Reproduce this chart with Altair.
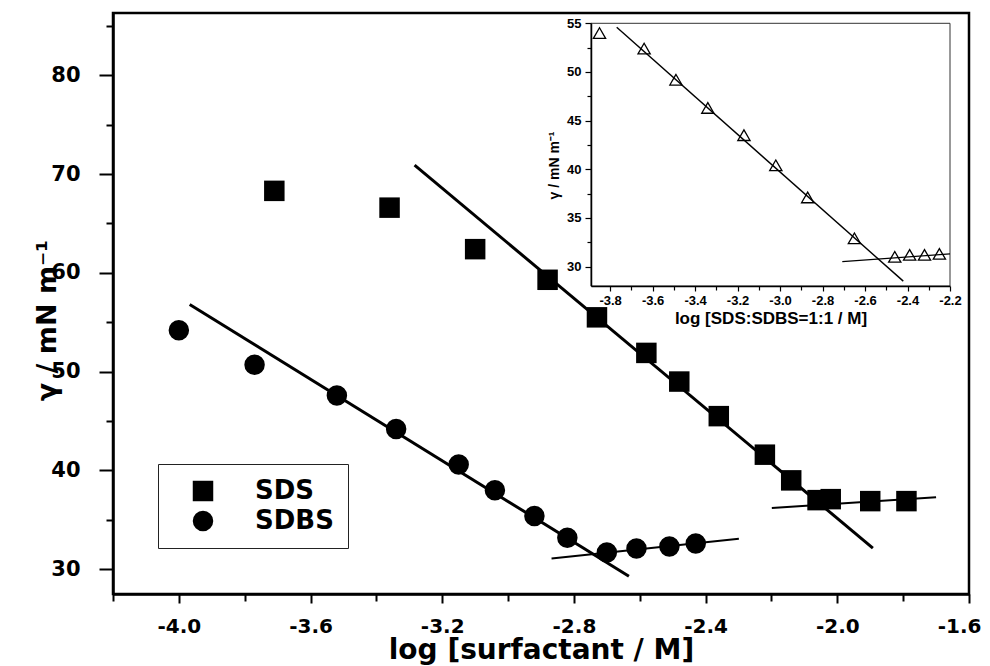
import altair as alt
import pandas as pd

# ---------------- data ----------------
sds_x = [-3.71, -3.36, -3.10, -2.88, -2.73, -2.58, -2.48, -2.36, -2.22, -2.14, -2.06, -2.02, -1.90, -1.79]
sds_y = [68.3, 66.6, 62.4, 59.3, 55.5, 51.9, 49.0, 45.5, 41.6, 39.0, 37.0, 37.1, 36.9, 36.9]
sdbs_x = [-4.00, -3.77, -3.52, -3.34, -3.15, -3.04, -2.92, -2.82, -2.70, -2.61, -2.51, -2.43]
sdbs_y = [54.2, 50.7, 47.6, 44.2, 40.6, 38.0, 35.4, 33.2, 31.7, 32.1, 32.3, 32.6]

# fitted straight lines: (x start, x end), (y start, y end)
sds_fit_x, sds_fit_y = [-3.284, -1.892], [70.9, 32.15]
sds_plateau_x, sds_plateau_y = [-2.199, -1.700], [36.2, 37.3]
sdbs_fit_x, sdbs_fit_y = [-3.967, -2.633], [56.8, 29.3]
sdbs_plateau_x, sdbs_plateau_y = [-2.868, -2.299], [31.1, 33.1]

# inset: SDS:SDBS = 1:1
mix_x = [-3.85, -3.64, -3.49, -3.34, -3.17, -3.02, -2.87, -2.65, -2.46, -2.39, -2.32, -2.25]
mix_y = [54.0, 52.4, 49.2, 46.3, 43.5, 40.4, 37.1, 32.9, 31.0, 31.2, 31.2, 31.3]
mix_fit_x, mix_fit_y = [-3.769, -2.420], [54.6, 28.5]
mix_plateau_x, mix_plateau_y = [-2.707, -2.2], [30.5, 31.3]

series_names = ["SDS", "SDBS"]

# axis domains and ticks
main_x_domain = [-4.2, -1.6]
main_y_domain = [27.5, 86.3]
main_x_ticks = [-4.2, -4.0, -3.8, -3.6, -3.4, -3.2, -3.0, -2.8, -2.6, -2.4, -2.2, -2.0, -1.8, -1.6]
main_y_ticks = [30, 35, 40, 45, 50, 55, 60, 65, 70, 75, 80, 85]
inset_x_domain = [-3.89, -2.2]
inset_y_domain = [28, 55]
inset_x_ticks = [-3.8, -3.7, -3.6, -3.5, -3.4, -3.3, -3.2, -3.1, -3.0, -2.9, -2.8, -2.7,
                 -2.6, -2.5, -2.4, -2.3, -2.2]
inset_y_ticks = [30, 32.5, 35, 37.5, 40, 42.5, 45, 47.5, 50, 52.5, 55]

# ---------------- tables ----------------
pts = pd.DataFrame({
    "x": sds_x + sdbs_x,
    "y": sds_y + sdbs_y,
    "series": [series_names[0]] * len(sds_x) + [series_names[1]] * len(sdbs_x),
})


def seg_table(segs):
    rows = []
    for name, xs, ys in segs:
        for xv, yv in zip(xs, ys):
            rows.append({"seg": name, "x": xv, "y": yv})
    return pd.DataFrame(rows)


steep = seg_table([("sds", sds_fit_x, sds_fit_y), ("sdbs", sdbs_fit_x, sdbs_fit_y)])
flat = seg_table([("sds", sds_plateau_x, sds_plateau_y), ("sdbs", sdbs_plateau_x, sdbs_plateau_y)])
mix = pd.DataFrame({"x": mix_x, "y": mix_y})
mix_steep = seg_table([("m", mix_fit_x, mix_fit_y)])
mix_flat = seg_table([("m", mix_plateau_x, mix_plateau_y)])
frame = pd.DataFrame({"x": [inset_x_domain[0]], "x2": [inset_x_domain[1]],
                      "y": [inset_y_domain[0]], "y2": [inset_y_domain[1]]})

MINUS = "\u2212"
BIG = "DejaVu Sans"
SMALL = "Liberation Sans"

# ---------------- main encodings ----------------
X_main = alt.X(
    "x:Q",
    scale=alt.Scale(domain=main_x_domain, nice=False, zero=False),
    axis=alt.Axis(
        values=main_x_ticks, grid=False, orient="bottom",
        title="log [surfactant / M]",
        titleFont=BIG, titleFontWeight="bold", titleFontSize=28, titleColor="black",
        titleBaseline="alphabetic", titleY=64,
        labelExpr=f"round(datum.value*10) % 4 === 0 ? replace(format(datum.value, '.1f'), '{MINUS}', '-') : ''",
        labelFont=BIG, labelFontWeight="bold", labelFontSize=20, labelColor="black",
        labelPadding=13, labelOverlap=False, labelFlush=True, labelFlushOffset=12,
        labelBound=False,
        tickSize={"condition": {"test": "round(datum.value*10) % 4 === 0", "value": 9}, "value": 7},
        tickWidth=2, tickColor="black", domainColor="black", domainWidth=2.5,
    ),
)
Y_main = alt.Y(
    "y:Q",
    scale=alt.Scale(domain=main_y_domain, nice=False, zero=False),
    axis=alt.Axis(
        values=main_y_ticks, grid=False, orient="left",
        title="\u03b3 / mN m\u207b\u00b9",
        titleFont=BIG, titleFontWeight="bold", titleFontSize=27, titleColor="black",
        titleAngle=270, titleAlign="center", titleBaseline="alphabetic",
        titleX=-58, titleY=307,
        labelExpr="datum.value % 10 === 0 ? datum.label : ''",
        labelFont=BIG, labelFontWeight="bold", labelFontSize=21, labelColor="black",
        labelPadding=19, labelOverlap=False, labelFlush=False, labelBound=False,
        tickSize={"condition": {"test": "datum.value % 10 === 0", "value": 14}, "value": 7},
        tickWidth=2, tickColor="black", domainColor="black", domainWidth=2.5,
    ),
)

points = alt.Chart(pts).mark_point(filled=True, size=420, opacity=1).encode(
    x=X_main, y=Y_main,
    color=alt.value("black"),
    shape=alt.Shape(
        "series:N",
        scale=alt.Scale(domain=series_names, range=["square", "circle"]),
        legend=alt.Legend(
            title=None, orient="none", legendX=45, legendY=451,
            padding=14, rowPadding=4, strokeColor="#222", fillColor="white",
            labelFont=BIG, labelFontWeight="bold", labelFontSize=26, labelColor="black",
            symbolSize=420, symbolFillColor="black", symbolStrokeWidth=0,
            symbolOffset=18, labelOffset=39,
        ),
    ),
)
steep_lines = alt.Chart(steep).mark_line(color="black", strokeWidth=3).encode(
    x=X_main, y=Y_main, detail="seg:N")
flat_lines = alt.Chart(flat).mark_line(color="black", strokeWidth=2).encode(
    x=X_main, y=Y_main, detail="seg:N")

main = alt.layer(steep_lines, flat_lines, points)

# ---------------- inset encodings ----------------
X_in = alt.X(
    "x:Q",
    scale=alt.Scale(domain=inset_x_domain, nice=False, zero=False, range=[478, 837]),
    axis=alt.Axis(
        values=inset_x_ticks, grid=False, orient="bottom", offset=-308, zindex=1,
        title="log [SDS:SDBS=1:1 / M]",
        titleFont=SMALL, titleFontWeight="bold", titleFontSize=17, titleColor="black",
        titleBaseline="alphabetic", titleY=37,
        labelExpr=f"abs(round(datum.value*10)) % 2 === 0 ? replace(format(datum.value, '.1f'), '{MINUS}', '-') : ''",
        labelFont=SMALL, labelFontWeight="bold", labelFontSize=13, labelColor="black",
        labelPadding=3, labelOverlap=False, labelFlush=False, labelBound=False,
        tickSize={"condition": {"test": "abs(round(datum.value*10)) % 2 === 0", "value": 5}, "value": 4},
        tickWidth=1.2, tickColor="black", domainColor="black", domainWidth=1.5,
    ),
)
Y_in = alt.Y(
    "y:Q",
    scale=alt.Scale(domain=inset_y_domain, nice=False, zero=False, range=[273, 10.3]),
    axis=alt.Axis(
        values=inset_y_ticks, grid=False, orient="left", offset=-478, zindex=1,
        title="\u03b3 / mN m\u207b\u00b9",
        titleFont=SMALL, titleFontWeight="bold", titleFontSize=14, titleColor="black",
        titleAngle=270, titleAlign="center", titleBaseline="alphabetic",
        titleX=-33, titleY=152,
        labelExpr="datum.value % 5 === 0 ? datum.label : ''",
        labelFont=SMALL, labelFontWeight="bold", labelFontSize=13, labelColor="black",
        labelPadding=4, labelOverlap=False, labelFlush=False, labelBound=False,
        tickSize={"condition": {"test": "datum.value % 5 === 0", "value": 6}, "value": 4},
        tickWidth=1.2, tickColor="black", domainColor="black", domainWidth=1.5,
    ),
)

inset_frame = alt.Chart(frame).mark_rect(filled=False, stroke="#333", strokeWidth=1).encode(
    x=X_in, x2="x2:Q", y=Y_in, y2="y2:Q")
inset_steep = alt.Chart(mix_steep).mark_line(color="black", strokeWidth=1.4).encode(
    x=X_in, y=Y_in, detail="seg:N")
inset_flat = alt.Chart(mix_flat).mark_line(color="black", strokeWidth=1.2).encode(
    x=X_in, y=Y_in, detail="seg:N")
inset_pts = alt.Chart(mix).mark_point(shape="triangle-up", filled=False, size=150,
                                      stroke="black", strokeWidth=1.3, opacity=1).encode(
    x=X_in, y=Y_in)

inset = alt.layer(inset_frame, inset_steep, inset_flat, inset_pts)

chart = (
    alt.layer(main, inset)
    .resolve_scale(x="independent", y="independent")
    .properties(
        width=856, height=581,
        autosize=alt.AutoSizeParams(type="none"),
        padding={"left": 105, "top": 5, "right": 13, "bottom": 72},
        background="white",
    )
    .configure_view(stroke="black", strokeWidth=2.5)
)

chart.save("out.html", embed_options={"renderer": "svg", "actions": False})
